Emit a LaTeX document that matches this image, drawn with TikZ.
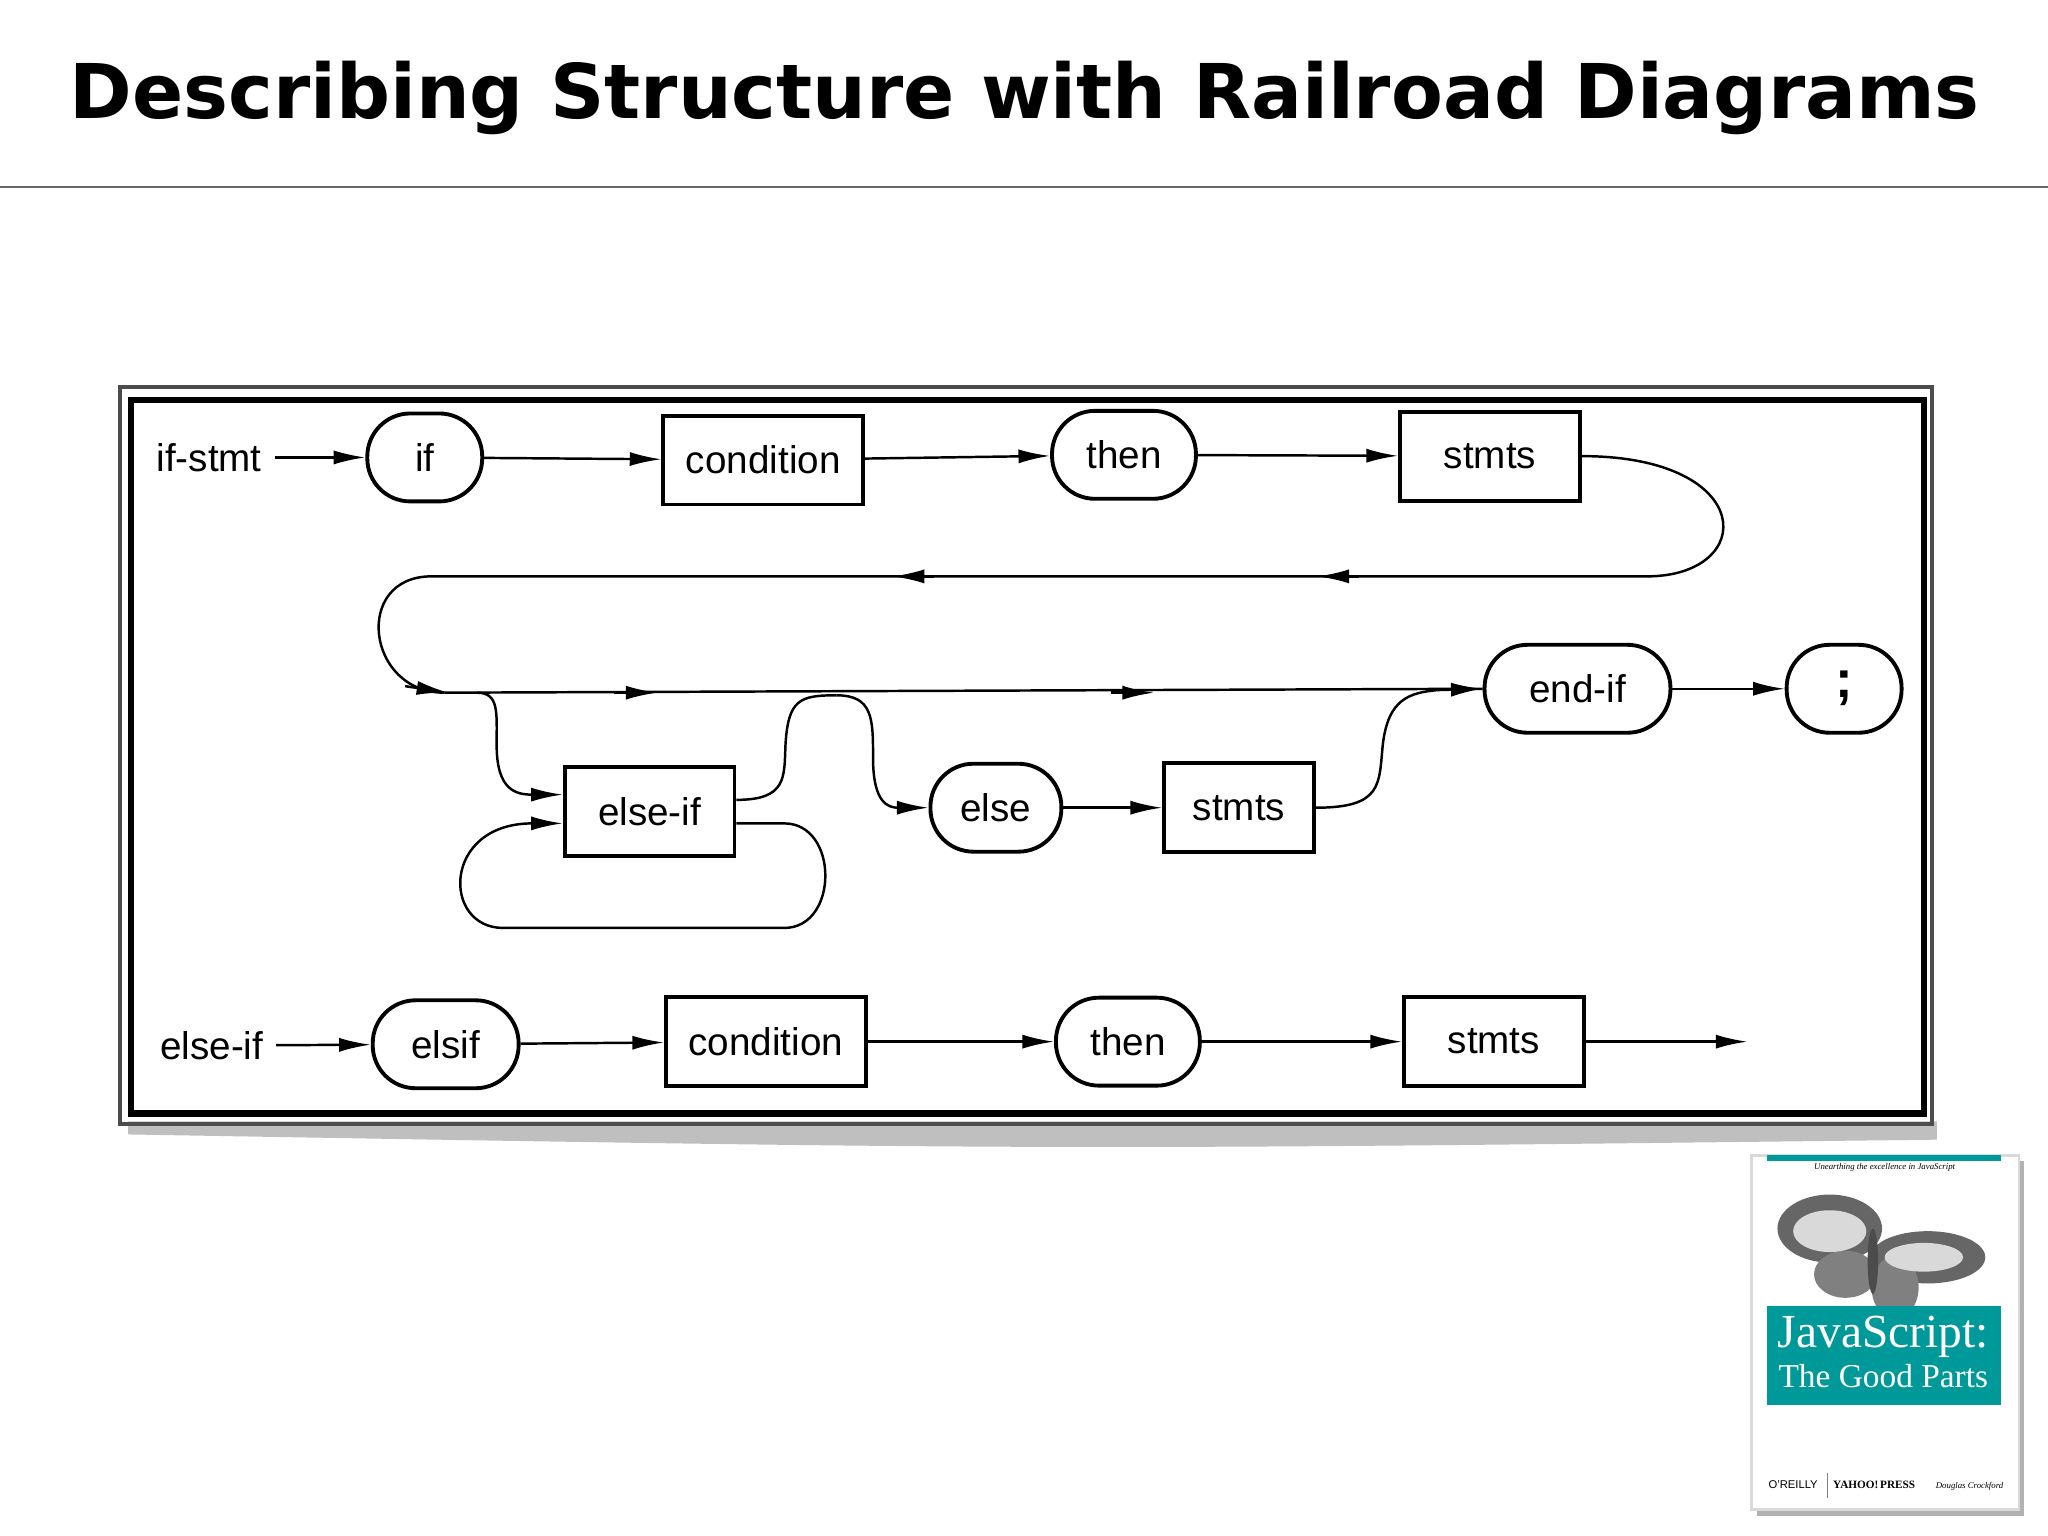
\documentclass[tikz,border=0pt]{standalone}
\usepackage{fontspec}
\setmainfont{Liberation Sans}
\newfontfamily\titlefont{DejaVu Sans}
\newfontfamily\coverfont{Liberation Serif}
\usetikzlibrary{positioning,shapes.misc,arrows.meta}

\tikzset{
	term/.style={draw, rectangle, rounded corners=0.43cm, line width=1.1pt, minimum height=0.88cm, inner xsep=8pt, font=\fontsize{11}{13}\selectfont},
	nonterm/.style={draw, rectangle, line width=1.1pt, minimum height=0.89cm, minimum width=1.8cm, inner xsep=6pt, font=\fontsize{11}{13}\selectfont},
	arr/.style={-{Latex[length=9pt,width=4pt]}},
	tip/.style={-{Latex[length=9pt,width=4pt]}},
	lbl/.style={font=\fontsize{11}{13}\selectfont}
}

\begin{document}
\begin{tikzpicture}[x=0.01307cm, y=-0.01307cm, line width=0.7pt]

	\useasboundingbox (0,0) rectangle (1567,1175);

	% title
	\node (title) at (784,75) {\titlefont\bfseries\fontsize{21.5}{26}\selectfont Describing Structure with Railroad Diagrams};
	\draw[line width=0.5pt, gray!80!black] (0,143) -- (1567,143);

	% frame
	\fill[black!25] (98,858) -- (1482,858) -- (1482,872) .. controls (800,880) .. (98,868) -- cycle;
	\draw[line width=1.2pt, black!70] (92,296) rectangle (1478,860);
	\draw[line width=1.8pt] (100,306) rectangle (1472,852);

	% row 1
	\node[lbl]      (ifstmt) at (160,350) {if-stmt};
	\node[term, minimum width=1.15cm] (if) at (325,350) {if};
	\node[nonterm, minimum width=2cm]  (cond1)  at (584,352) {condition};
	\node[term, minimum width=1.44cm] (then1) at (860,348) {then};
	\node[nonterm]  (stmts1) at (1140,349) {stmts};

	% row 2
	\node[nonterm, minimum width=1.7cm] (elseif) at (497,621) {else-if};
	\node[term, minimum width=1.31cm]   (else)   at (762,618) {else};
	\node[nonterm, minimum width=1.5cm] (stmts2) at (948,618) {stmts};
	\node[term, minimum width=1.86cm]   (endif)  at (1207,527) {end-if};
	\node[term, minimum width=1.15cm, font=\fontsize{15}{18}\selectfont\bfseries] (semi) at (1411,527) {;};

	% row 3
	\node[lbl]      (elseiflbl) at (162,800) {else-if};
	\node[term, minimum width=1.46cm] (elsif) at (341,799) {elsif};
	\node[nonterm, minimum width=2cm]  (cond2)  at (586,797) {condition};
	\node[term, minimum width=1.44cm] (then2) at (863,797) {then};
	\node[nonterm]  (stmts3) at (1143,797) {stmts};
	\coordinate     (out) at (1337,797);

	% curve points
	\coordinate (topR)  at (1260,441);
	\coordinate (topL)  at (330,441);
	\coordinate (mainL) at (340,530);
	\coordinate (eiIn)  at (elseif.west |- 0,608);
	\coordinate (eiLp)  at (elseif.west |- 0,630);
	\coordinate (eiOut) at (elseif.east |- 0,612);
	\coordinate (eiRet) at (elseif.east |- 0,630);
	\coordinate (join)  at (640,532);

	% arrows row 1
	\draw[arr] (ifstmt) -- (if);
	\draw[arr] (if) -- (cond1);
	\draw[arr] (cond1) -- (then1);
	\draw[arr] (then1) -- (stmts1);
	\draw (stmts1.east) .. controls (1345,349) and (1345,441) .. (topR) -- (topL)
		.. controls (270,441) and (280,530) .. (mainL);
	\draw (mainL) -- (endif.west);
	\draw[tip] (1040,441) -- (1008,441);
	\draw[tip] (715,441) -- (683,441);
	\draw[tip] (310,525) -- (343,530);
	\draw[tip] (470,530) -- (503,530);
	\draw[tip] (850,530) -- (883,530);
	\draw[arr] (1100,528) -- (endif.west);

	% else-if branch
	\draw[arr] (365,530) .. controls (382,530) and (380,545) .. (380,570)
		.. controls (380,605) and (395,608) .. (eiIn);
	\draw (eiOut) .. controls (602,612) and (600,595) .. (601,570)
		.. controls (603,535) and (612,532) .. (join);
	\draw[arr] (eiRet) -- (600,630) .. controls (642,630) and (642,710) .. (600,710) -- (385,710)
		.. controls (338,710) and (338,630) .. (eiLp);

	% else branch
	\draw[arr] (join) .. controls (668,532) and (668,550) .. (668,580)
		.. controls (668,615) and (680,618) .. (else.west);
	\draw[arr] (else) -- (stmts2);
	\draw (stmts2.east) .. controls (1058,618) and (1055,600) .. (1058,570)
		.. controls (1062,535) and (1078,530) .. (1100,528);
	\draw[arr] (endif) -- (semi);

	% arrows row 3
	\draw[arr] (elseiflbl) -- (elsif);
	\draw[arr] (elsif) -- (cond2);
	\draw[arr] (cond2) -- (then2);
	\draw[arr] (then2) -- (stmts3);
	\draw[arr] (stmts3) -- (out);

	% book cover
	\fill[black!30] (1344,888) rectangle (1549,1160);
	\fill[white] (1340,884) rectangle (1545,1155);
	\draw[black!15] (1340,884) rectangle (1545,1155);
	\fill[teal!80!cyan] (1352,884) rectangle (1531,888);
	\node (tagline) at (1442,893) {\coverfont\itshape\fontsize{2.5}{3}\selectfont Unearthing the excellence in JavaScript};
	\fill[black!60] (1400,940) ellipse (40 and 26);
	\fill[black!60] (1475,962) ellipse (44 and 20);
	\fill[black!50] (1412,975) ellipse (24 and 18);
	\fill[black!50] (1450,985) ellipse (18 and 24);
	\fill[black!15] (1400,942) ellipse (28 and 16);
	\fill[black!15] (1472,962) ellipse (30 and 11);
	\fill[black!70] (1433,965) ellipse (4 and 25);
	\fill[teal!80!cyan] (1352,999) rectangle (1531,1075);
	\node[text=white] (jstitle) at (1441,1023) {\coverfont\fontsize{13.5}{15}\selectfont JavaScript:};
	\node[text=white] (jssub) at (1441,1053) {\coverfont\fontsize{9.5}{11}\selectfont The Good Parts};
	\node[inner sep=0] (oreilly) at (1372,1136) {\fontsize{3.2}{4}\selectfont O'REILLY};
	\draw[black!50, line width=0.3pt] (1398,1127) -- (1398,1146);
	\node[inner sep=0] (yahoo) at (1434,1136) {\coverfont\bfseries\fontsize{3.2}{4}\selectfont YAHOO!\,PRESS};
	\node[inner sep=0] (author) at (1507,1137) {\coverfont\itshape\fontsize{2.5}{3}\selectfont Douglas Crockford};

\end{tikzpicture}
\end{document}
